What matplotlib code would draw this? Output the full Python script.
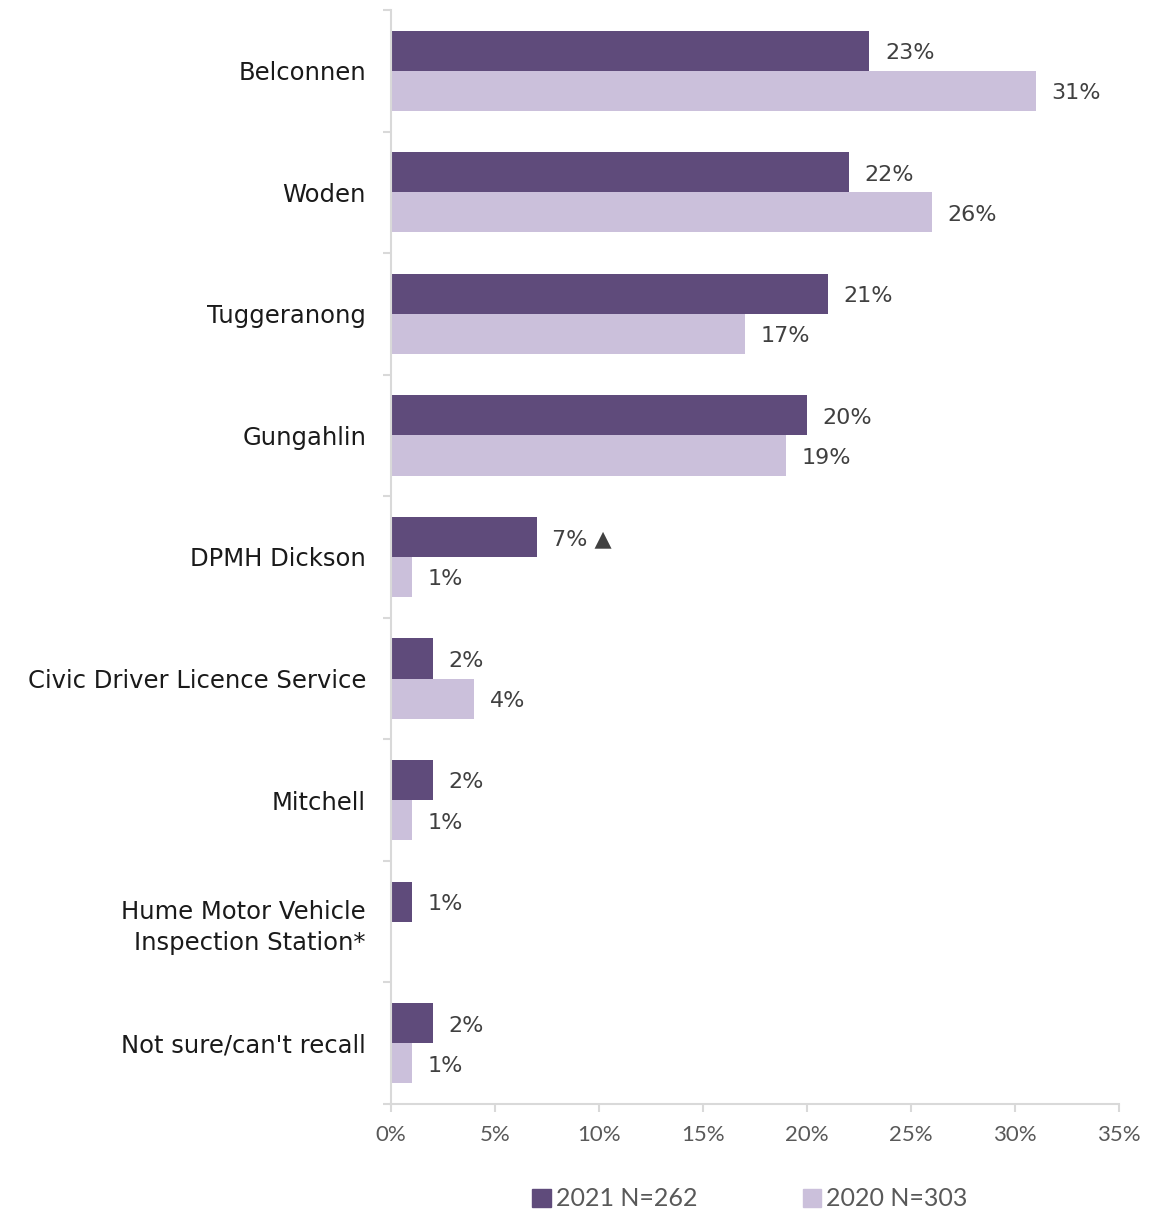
import numpy as np
import matplotlib.pyplot as plt
from matplotlib.ticker import FixedLocator, PercentFormatter
from matplotlib.patches import Patch

plt.rcParams['font.family'] = ['Lato', 'DejaVu Sans']

sites = ['Belconnen', 'Woden', 'Tuggeranong', 'Gungahlin', 'DPMH Dickson',
         'Civic Driver Licence Service', 'Mitchell',
         'Hume Motor Vehicle\nInspection Station*', "Not sure/can't recall"]
share_2021 = [23, 22, 21, 20, 7, 2, 2, 1, 2]
share_2020 = [31, 26, 17, 19, 1, 4, 1, None, 1]
flags_2021 = ['', '', '', '', '▲', '', '', '', '']
legend_labels = ['2021 N=262', '2020 N=303']

dark = '#5f4b7b'
light = '#cbc0db'
grey = '#d9d9d9'
txt = '#404040'
wide = ['DejaVu Sans']

fig = plt.figure(figsize=(11.49, 12.12), dpi=100)
ax = fig.add_axes([391 / 1149, 1 - 1104 / 1212, (1119 - 391) / 1149, (1104 - 10) / 1212])

y = np.arange(len(sites))
h = 0.33
for i, (a, b) in enumerate(zip(share_2021, share_2020)):
    ax.barh(y[i] - h / 2, a, height=h, color=dark)
    ax.text(a + 0.75, y[i] - h / 2 + 0.02, f'{a}%' + (' ' + flags_2021[i] if flags_2021[i] else ''),
            va='center', ha='left', fontsize=16, color=txt, family=wide)
    if b is not None:
        ax.barh(y[i] + h / 2, b, height=h, color=light)
        ax.text(b + 0.75, y[i] + h / 2 + 0.02, f'{b}%', va='center', ha='left',
                fontsize=16, color=txt, family=wide)

ax.set_ylim(len(sites) - 0.5, -0.5)
ax.set_xlim(0, 35)
ax.set_yticks(y)
ax.set_yticklabels(sites, fontsize=17.5, color='#1a1a1a', ha='right',
                   family=wide, linespacing=1.35)
ax.yaxis.set_minor_locator(FixedLocator(np.arange(-0.5, len(sites), 1)))
ax.tick_params(axis='y', which='major', length=0, pad=18)
ax.tick_params(axis='y', which='minor', length=6, color=grey, width=1.5)
ax.set_xticks(np.arange(0, 36, 5))
ax.xaxis.set_major_formatter(PercentFormatter(decimals=0))
ax.tick_params(axis='x', length=6, color=grey, width=1.5, labelsize=16,
               labelcolor='#595959', pad=9)

for s in ['top', 'right']:
    ax.spines[s].set_visible(False)
for s in ['left', 'bottom']:
    ax.spines[s].set_color(grey)
    ax.spines[s].set_linewidth(1.5)

handles = [Patch(color=dark), Patch(color=light)]
fig.legend(handles, legend_labels, loc='center', bbox_to_anchor=(750 / 1149, 1 - 1199 / 1212),
           ncol=2, frameon=False, fontsize=18, handlelength=0.75, handleheight=0.75,
           handletextpad=0.2, columnspacing=4.2, labelcolor='#595959')

fig.savefig('out.png', dpi=100)
